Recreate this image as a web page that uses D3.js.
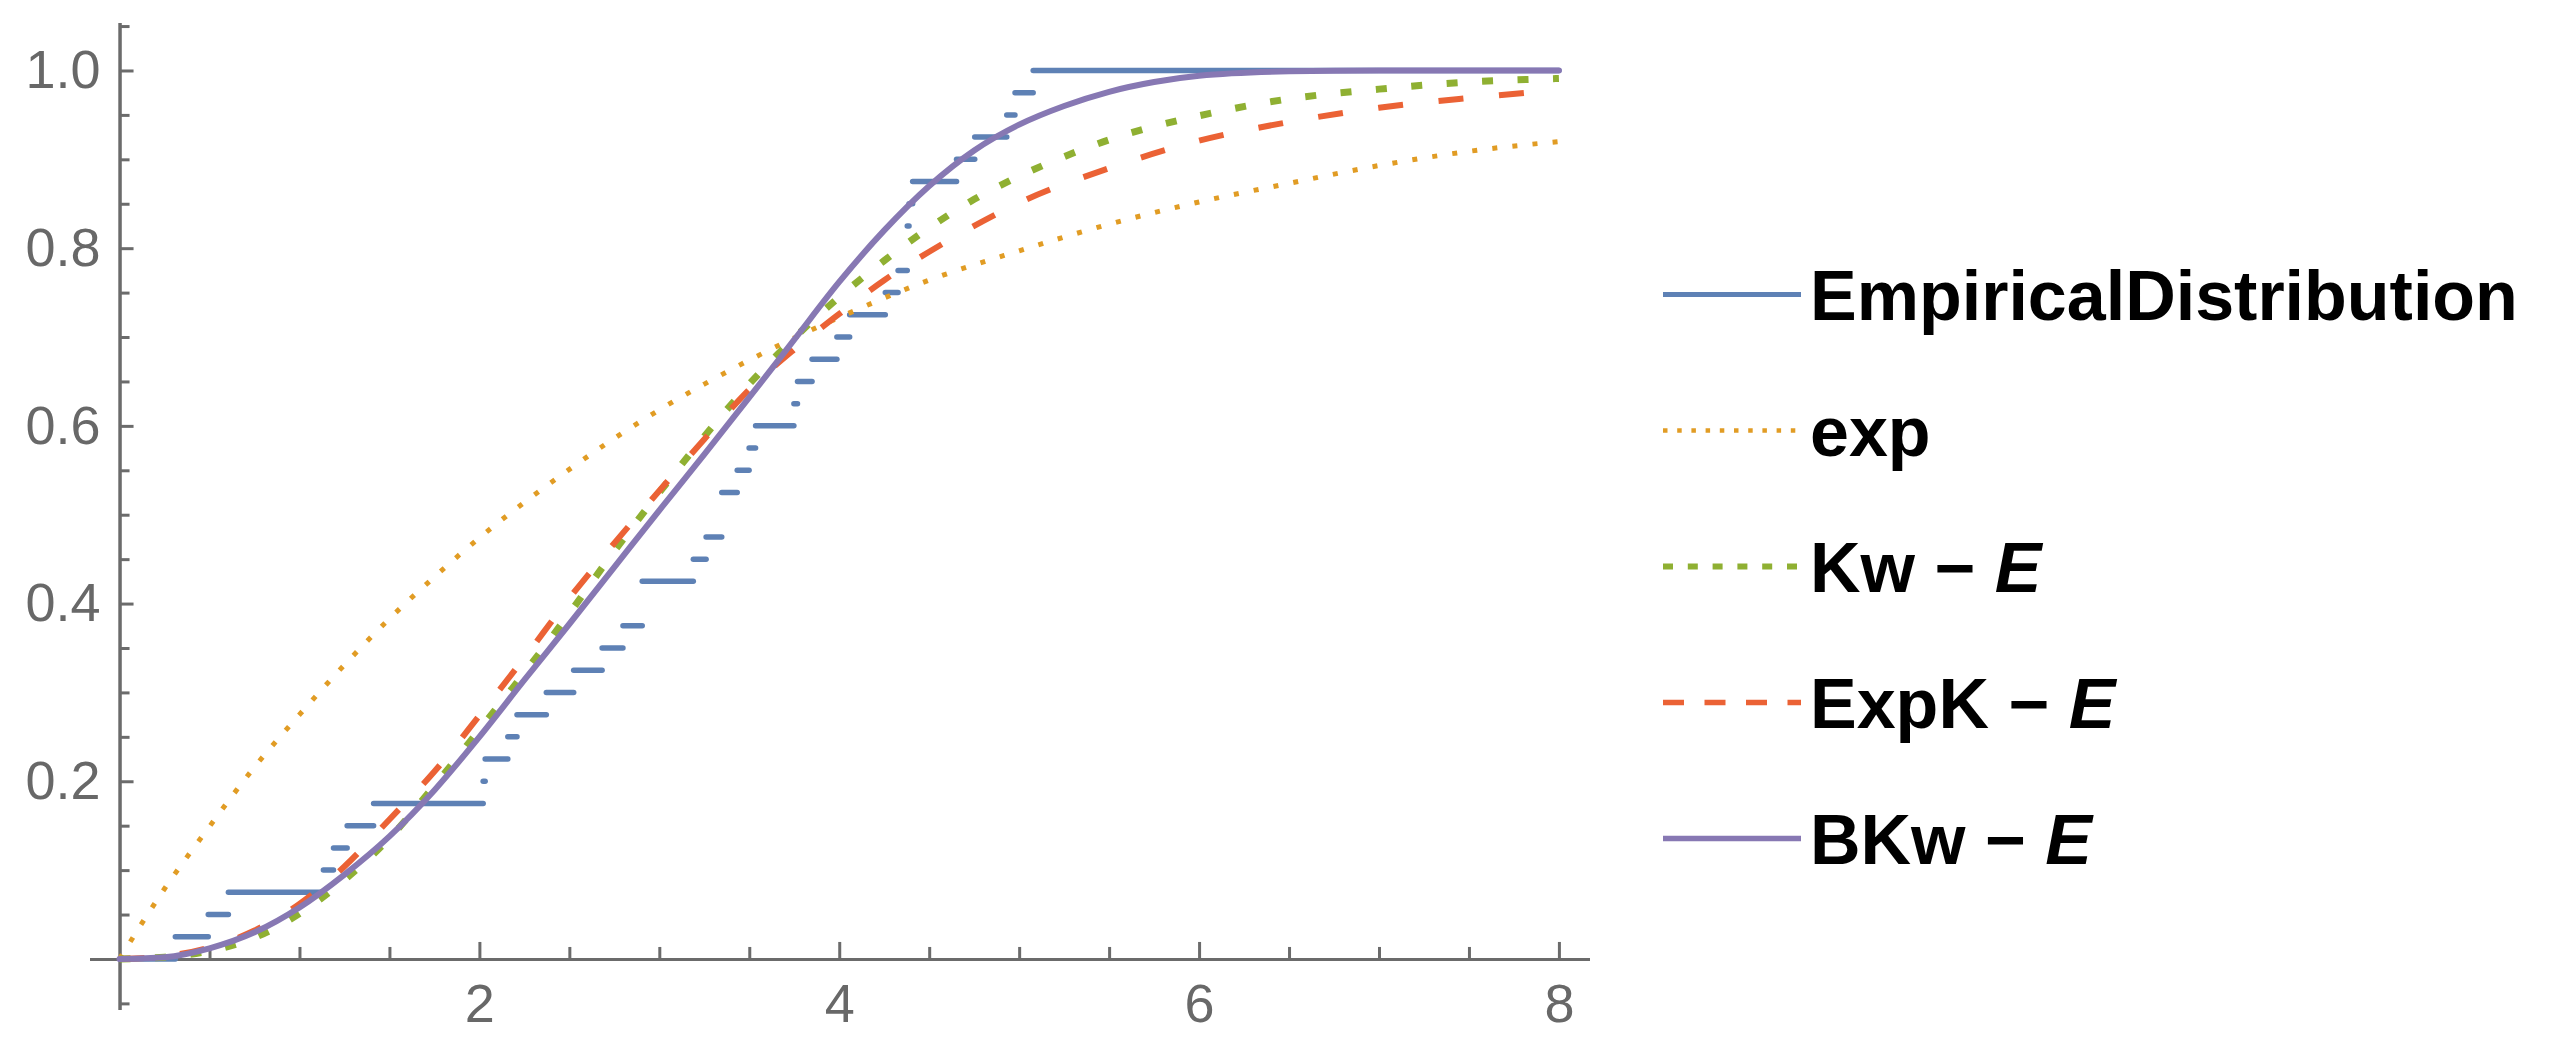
<!DOCTYPE html>
<html><head><meta charset="utf-8">
<script src="https://cdn.jsdelivr.net/npm/d3@7"></script>
<style>html,body{margin:0;padding:0;background:#fff;} svg{display:block;}</style>
</head><body>
<svg id="chart" width="2551" height="1053"></svg>
<script>
// ---- data ----
const empiricalSample = [0.310,0.493,0.605,1.133,1.189,1.265,1.412,2.021,2.032,2.158,
  2.209,2.372,2.524,2.682,2.798,2.905,2.905,3.189,3.260,3.347,
  3.347,3.433,3.499,3.535,3.748,3.768,3.849,3.987,4.058,4.256,
  4.327,4.378,4.378,4.388,4.408,4.652,4.753,4.931,4.977,5.078];

const bkwX = [0,0.25,0.5,0.75,1,1.25,1.5,1.75,2,2.25,2.5,2.75,3,3.25,3.5,3.75,4,4.25,4.5,4.75,5,5.25,5.5,5.75,6,6.5,7,7.5,8];
const bkwY = [0,0.002,0.012,0.03,0.058,0.095,0.138,0.19,0.25,0.314,0.377,0.441,0.505,0.568,0.632,0.697,0.762,0.82,0.87,0.91,0.939,0.96,0.976,0.987,0.994,0.999,1,1,1];

const kwX = [0,0.25,0.5,0.75,1,1.25,1.5,1.75,2,2.25,2.5,2.75,3,3.25,3.5,3.75,4,4.25,4.5,4.75,5,5.25,5.5,5.75,6,6.5,7,7.5,8];
const kwY = [0,0.002,0.009,0.024,0.051,0.089,0.136,0.195,0.258,0.322,0.389,0.459,0.525,0.588,0.647,0.699,0.745,0.786,0.823,0.855,0.881,0.903,0.922,0.937,0.949,0.968,0.979,0.987,0.991];

const expkX = [0,0.25,0.5,0.75,1,1.25,1.5,1.75,2,2.25,2.5,2.75,3,3.25,3.5,3.75,4,4.25,4.5,4.75,5,5.5,6,6.5,7,7.5,8];
const expkY = [0,0.003,0.013,0.032,0.062,0.104,0.157,0.211,0.274,0.339,0.406,0.468,0.527,0.585,0.641,0.686,0.726,0.764,0.796,0.825,0.851,0.89,0.921,0.942,0.958,0.969,0.978];

const expX = [0,0.25,0.5,0.75,1,1.25,1.5,1.75,2,2.25,2.5,2.75,3,3.25,3.5,3.75,4,4.5,5,5.5,6,6.5,7,7.5,8];
const expY = [0,0.079,0.149,0.216,0.275,0.331,0.383,0.43,0.474,0.514,0.551,0.586,0.618,0.647,0.674,0.699,0.722,0.764,0.797,0.827,0.852,0.873,0.893,0.909,0.92];

const xMajorTicks = [2,4,6,8];
const xMinorTicks = [0.5,1,1.5,2.5,3,3.5,4.5,5,5.5,6.5,7,7.5];
const yMajorTicks = [0.2,0.4,0.6,0.8,1.0];
const yMinorTicks = [-0.05,0.05,0.1,0.15,0.25,0.3,0.35,0.45,0.5,0.55,0.65,0.7,0.75,0.85,0.9,0.95,1.05];
const legendLabels = ["EmpiricalDistribution","exp","Kw","ExpK","BKw"];

// ---- drawing ----
const svg = d3.select("#chart");
svg.append("rect").attr("width",2551).attr("height",1053).attr("fill","#fff");

const x = d3.scaleLinear().domain([-0.167, 8.17]).range([89.5, 1589.5]);
const y = d3.scaleLinear().domain([-0.057, 1.054]).range([1009.6, 22.5]);

const axisColor = "#6b6b6b";
const labelColor = "#686868";
const font = "'Liberation Sans', Arial, sans-serif";

function styleAxis(g){
  g.select(".domain").attr("stroke",axisColor).attr("stroke-width",3);
  g.selectAll(".tick line").attr("stroke",axisColor).attr("stroke-width",3);
  g.selectAll(".tick text").attr("fill",labelColor).attr("font-family",font).attr("font-size",54);
}

// x axis
const gxm = svg.append("g").attr("transform",`translate(0,${y(0)})`)
  .call(d3.axisBottom(x).tickValues(xMinorTicks).tickSize(-12).tickSizeOuter(0).tickFormat(""));
styleAxis(gxm);
const gx = svg.append("g").attr("transform",`translate(0,${y(0)})`)
  .call(d3.axisBottom(x).tickValues(xMajorTicks).tickSize(-17).tickSizeOuter(0).tickPadding(25).tickFormat(d3.format("d")));
styleAxis(gx);

// y axis
const gym = svg.append("g").attr("transform",`translate(${x(0)},0)`)
  .call(d3.axisLeft(y).tickValues(yMinorTicks).tickSize(-10).tickSizeOuter(0).tickFormat(""));
styleAxis(gym);
const gy = svg.append("g").attr("transform",`translate(${x(0)},0)`)
  .call(d3.axisLeft(y).tickValues(yMajorTicks).tickSize(-14).tickSizeOuter(0).tickPadding(19).tickFormat(d3.format(".1f")));
styleAxis(gy);

const colors = {
  emp: "#5E81B5", exp: "#E19C24", kw: "#8FB032", expk: "#EB6235", bkw: "#8778B3"
};

// empirical distribution (horizontal steps only)
const n = empiricalSample.length;
const steps = [];
for (let i = 0; i <= n; i++) {
  const x0 = i === 0 ? 0 : empiricalSample[i-1];
  const x1 = i === n ? 8 : empiricalSample[i];
  if (x1 - x0 > 1e-9) steps.push({x0, x1, level: i / n});
}
svg.append("g").selectAll("line").data(steps).join("line")
  .attr("x1", d => x(d.x0)).attr("x2", d => x(d.x1))
  .attr("y1", d => y(d.level)).attr("y2", d => y(d.level))
  .attr("stroke", colors.emp).attr("stroke-width", 5.5).attr("stroke-linecap","round");

const line = d3.line().x(d => x(d[0])).y(d => y(d[1])).curve(d3.curveMonotoneX);
const zip = (a,b) => a.map((v,i)=>[v,b[i]]);

const series = [
  {data: zip(expX, expY), color: colors.exp, width: 5, dash: "5 15.2", cap: "butt"},
  {data: zip(kwX, kwY), color: colors.kw, width: 7, dash: "11 24.5", cap: "butt"},
  {data: zip(expkX, expkY), color: colors.expk, width: 6, dash: "25 35.7", cap: "butt"},
  {data: zip(bkwX, bkwY), color: colors.bkw, width: 6, dash: null, cap: "round"}
];
series.forEach(s => {
  svg.append("path").datum(s.data).attr("d", line)
    .attr("fill","none").attr("stroke", s.color).attr("stroke-width", s.width)
    .attr("stroke-dasharray", s.dash).attr("stroke-linecap", s.cap).attr("stroke-linejoin","round");
});

// legend
const legendItems = [
  {label: legendLabels[0], italicE: false, color: colors.emp, width: 5, dash: null},
  {label: legendLabels[1], italicE: false, color: colors.exp, width: 4.5, dash: "4.5 9.7"},
  {label: legendLabels[2], italicE: true, color: colors.kw, width: 6, dash: "10 14.8"},
  {label: legendLabels[3], italicE: true, color: colors.expk, width: 5.5, dash: "21 20.5"},
  {label: legendLabels[4], italicE: true, color: colors.bkw, width: 5.5, dash: null}
];
const lg = svg.append("g");
legendItems.forEach((d,i) => {
  const ly = 294.5 + i * 136;
  lg.append("line").attr("x1",1663).attr("x2",1801).attr("y1",ly).attr("y2",ly)
    .attr("stroke", d.color).attr("stroke-width", d.width).attr("stroke-dasharray", d.dash);
  const t = lg.append("text").attr("x",1810).attr("y",ly+25)
    .attr("font-family",font).attr("font-size",70).attr("font-weight","bold").attr("fill","#000");
  t.append("tspan").text(d.label);
  if (d.italicE) {
    t.append("tspan").text(" \u2212 ");
    t.append("tspan").attr("font-style","italic").text("E");
  }
});
</script>
</body></html>
